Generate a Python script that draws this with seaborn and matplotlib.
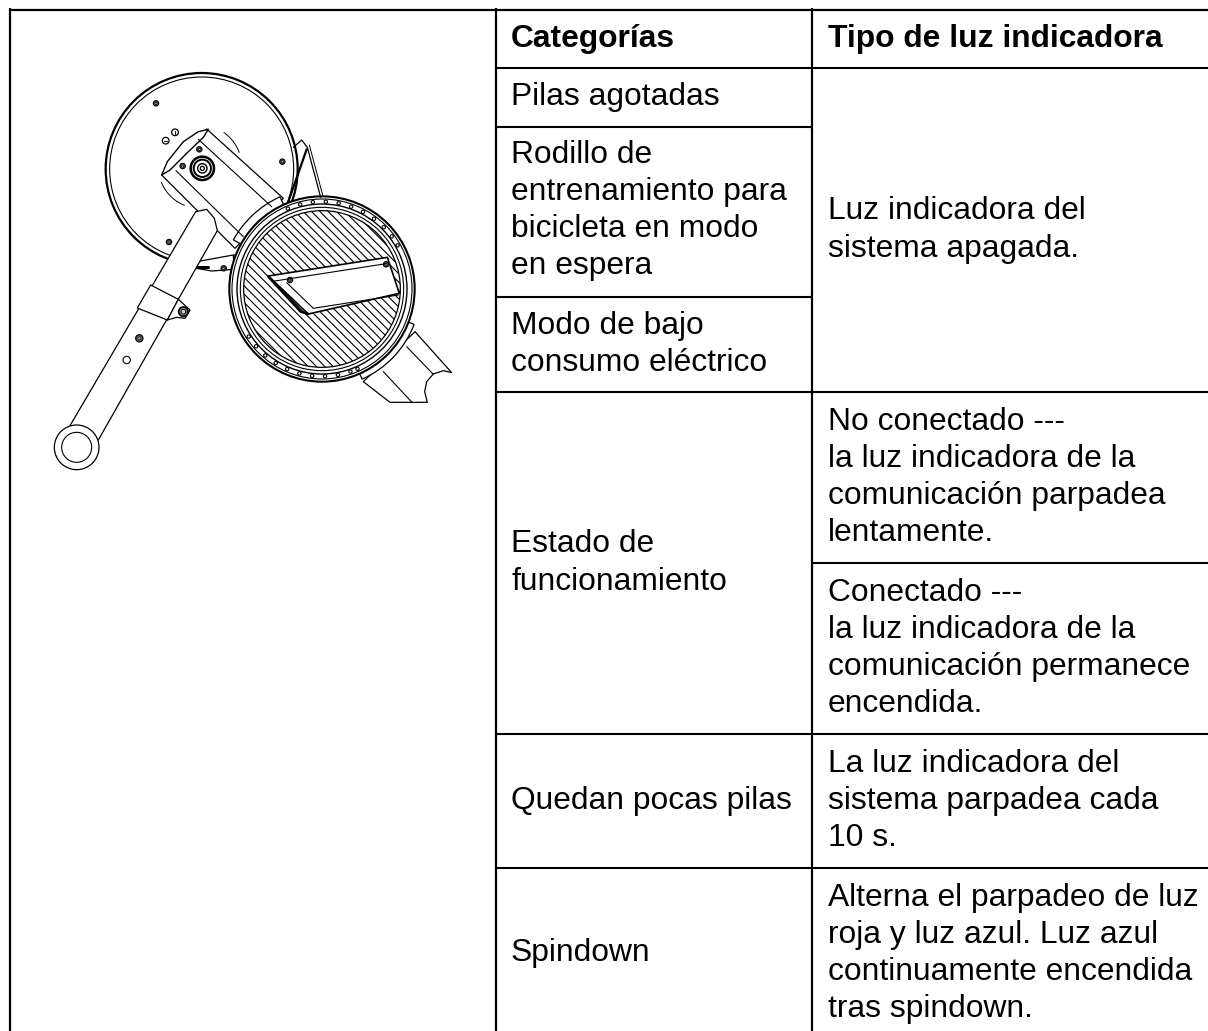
import numpy as np
import seaborn as sns
import matplotlib.pyplot as plt
from matplotlib.patches import Circle, Polygon, Wedge

sns.set_theme(style='white')
plt.rcParams['font.family'] = ['Liberation Sans', 'DejaVu Sans']
plt.rcParams['hatch.linewidth'] = 0.8

header = ['Categorías', 'Tipo de luz indicadora']
categorias = [
    ['Pilas agotadas'],
    ['Rodillo de', 'entrenamiento para', 'bicicleta en modo', 'en espera'],
    ['Modo de bajo', 'consumo eléctrico'],
    ['Estado de', 'funcionamiento'],
    ['Quedan pocas pilas'],
    ['Spindown'],
]
cat_rows = [(68, 127), (127, 294), (297, 392), (392, 734), (734, 868), (868, 1039)]
tipos = [
    ['Luz indicadora del', 'sistema apagada.'],
    ['No conectado ---', 'la luz indicadora de la', 'comunicación parpadea', 'lentamente.'],
    ['Conectado ---', 'la luz indicadora de la', 'comunicación permanece', 'encendida.'],
    ['La luz indicadora del', 'sistema parpadea cada', '10 s.'],
    ['Alterna el parpadeo de luz', 'roja y luz azul. Luz azul', 'continuamente encendida', 'tras spindown.'],
]
tipo_rows = [(68, 392), (392, 563), (563, 734), (734, 868), (868, 1039)]

fig = plt.figure(figsize=(12.08, 10.31), dpi=100)
ax = fig.add_axes([0, 0, 1, 1])
ax.set_xlim(0, 1208)
ax.set_ylim(1031, 0)
ax.axis('off')

# table rules
for x in [10, 496, 812]:
    ax.plot([x, x], [8, 1031], color='black', lw=1.6, solid_capstyle='butt')
ax.plot([9, 1208], [10, 10], color='black', lw=1.6, solid_capstyle='butt')
for y in [68, 392, 734, 868]:
    ax.plot([496, 1208], [y, y], color='black', lw=1.5, solid_capstyle='butt')
for y in [127, 297]:
    ax.plot([496, 812], [y, y], color='black', lw=1.5, solid_capstyle='butt')
ax.plot([812, 1208], [563, 563], color='black', lw=1.5, solid_capstyle='butt')


def cell(x, top, bottom, lines, weight='normal'):
    mid = (top + bottom) / 2
    for i, line in enumerate(lines):
        base = mid + (i - (len(lines) - 1) / 2) * 37.2 + 8
        ax.text(x, base, line, fontsize=22.9, va='baseline', ha='left',
                color='black', fontweight=weight)


cell(511, 10, 68, [header[0]], 'bold')
cell(828, 10, 68, [header[1]], 'bold')
for rows, lines in zip(cat_rows, categorias):
    cell(511, rows[0], rows[1], lines)
for rows, lines in zip(tipo_rows, tipos):
    cell(828, rows[0], rows[1], lines)

# illustration, in its own axes
dr = fig.add_axes([30 / 1208, 1 - 480 / 1031, 430 / 1208, 420 / 1031])
dr.set_xlim(0, 1290)
dr.set_ylim(1260, 0)
dr.axis('off')
dr.patch.set_alpha(0)


def ring(x, y, r, lw=0.9, fc='white', ec='black', **kw):
    dr.add_patch(Circle((x, y), r, fc=fc, ec=ec, lw=lw, **kw))


def poly(pts, lw=0.9, fc='white', closed=True):
    dr.add_patch(Polygon(pts, closed=closed, fc=fc, ec='black', lw=lw, joinstyle='round'))


def seg(pts, lw=0.9):
    p = np.array(pts)
    dr.plot(p[:, 0], p[:, 1], color='black', lw=lw, solid_capstyle='round')


def arc(x, y, r, a1, a2, lw=0.7):
    t = np.deg2rad(np.linspace(a1, a2, 30))
    dr.plot(x + r * np.cos(t), y + r * np.sin(t), color='black', lw=lw)


def screw(x, y, r=8):
    ring(x, y, r, lw=0.8, fc='#555555')
    ring(x, y, r * 0.4, lw=0.4, fc='#bbbbbb')


# far strut behind the rear disc
seg([(790, 262), (815, 240), (832, 262), (872, 412)])
seg([(830, 268), (775, 425)], lw=1.6)
seg([(838, 255), (878, 405)], lw=0.7)

# rear disc
ring(515, 327, 288, lw=1.6)
ring(515, 327, 276, lw=0.8)
for sx, sy in [(378, 130), (757, 305), (417, 546)]:
    screw(sx, sy)
ring(407, 242, 10, lw=0.9)
ring(435, 217, 10, lw=0.9)
seg([(402, 242), (412, 242)], lw=0.7)
seg([(435, 212), (435, 222)], lw=0.7)

# hub and housing
arc(510, 320, 125, -55, -20)
arc(510, 320, 125, 112, 158)
poly([(395, 345), (530, 207), (760, 415), (615, 565)])
seg([(505, 238), (725, 440)], lw=0.8)
seg([(438, 332), (640, 530)], lw=0.8)
poly([(395, 345), (412, 305), (460, 245), (505, 215), (535, 208), (520, 232), (470, 280), (420, 330)], lw=1.0)
for r, lw in [(35, 1.8), (26, 1.4), (14, 1.0), (6, 0.9)]:
    ring(517, 325, r, lw=lw)
screw(508, 268)
screw(458, 318)

# piece below the arm
poly([(500, 605), (610, 585), (612, 628), (545, 633), (500, 625)])
seg([(502, 620), (535, 620)], lw=2.2)
screw(581, 625)

# arm with sleeve and eye
poly([(497, 455), (530, 448), (553, 475), (562, 512), (205, 1140), (120, 1097)], lw=0.9)
poly([(362, 675), (445, 718), (412, 780), (322, 744)], lw=0.9)
poly([(445, 718), (480, 750), (465, 775), (440, 772), (412, 780)], lw=0.9)
ring(460, 755, 14, lw=1.2, fc='#888888')
ring(460, 755, 7, lw=0.6, fc='#cccccc')
screw(328, 835, 11)
ring(290, 900, 11, lw=0.8)
ring(140, 1162, 67, lw=0.9)
ring(140, 1162, 45, lw=0.8)

# lower strut
poly([(1155, 815), (1265, 938), (1240, 932), (1210, 942), (1190, 965), (1184, 995), (1192, 1027),
      (1080, 1027), (1000, 965)], lw=0.9)
seg([(1130, 860), (1210, 943)], lw=0.8)
seg([(1060, 935), (1145, 1026)], lw=0.8)

# collars and front disc
dr.add_patch(Wedge((876, 687), 304, -151, -114.5, width=30, fc='white', ec='black', lw=0.9))
dr.add_patch(Wedge((876, 687), 296, 21, 66, width=24, fc='white', ec='black', lw=0.9))
ring(876, 687, 278, lw=1.5)
ring(876, 687, 270, lw=0.8)
for ang in [-113, -104.5, -96, -87.5, -79, -70.5, -62, -53.5, -45, -37, -30,
            147, 139, 130.5, 122, 113.5, 105, 96.5, 88, 79.5, 71, 66]:
    t = np.deg2rad(ang)
    ring(876 + 262 * np.cos(t), 687 + 262 * np.sin(t), 5, lw=0.8)
ring(876, 687, 255, lw=1.0)
ring(876, 687, 245, lw=0.8)
dr.add_patch(Circle((876, 687), 235, fc='white', ec='black', lw=0.9, hatch='\\\\\\\\'))

# handle
poly([(715, 648), (1072, 592), (1108, 700), (835, 762)], lw=1.2)
seg([(728, 664), (1068, 611)], lw=0.8)
seg([(770, 668), (850, 745), (1105, 705)], lw=0.8)
seg([(715, 650), (812, 755), (835, 762)], lw=1.8)
screw(780, 660)
screw(1068, 613)

fig.savefig('out.png', dpi=100)
